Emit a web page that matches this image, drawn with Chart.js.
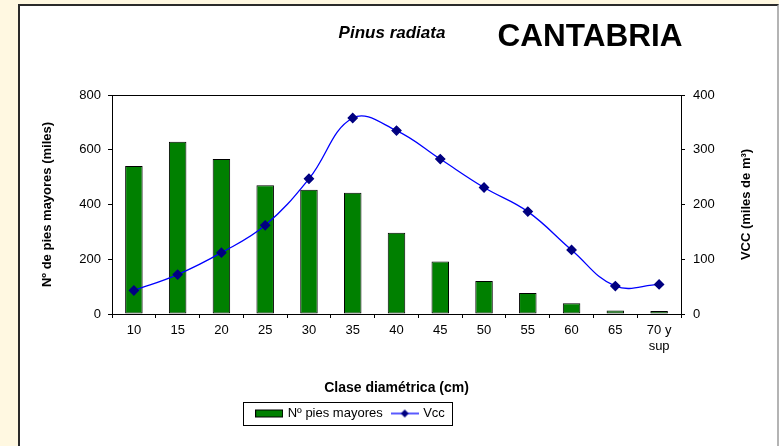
<!DOCTYPE html>
<html>
<head>
<meta charset="utf-8">
<script src="https://cdn.jsdelivr.net/npm/chart.js@4.4.0/dist/chart.umd.min.js"></script>
<style>
  html, body { margin: 0; padding: 0; background: #FFF8E1; overflow: hidden; }
  #frame {
    position: absolute; left: 18px; top: 4px; width: 757px; height: 446px;
    background: #fff; border-left: 2px solid #2a2a2a; border-top: 2px solid #2a2a2a;
    border-right: 2px solid #b4b4b4;
  }
  #chart { position: absolute; left: 0; top: 0; }
</style>
</head>
<body>
<div id="frame"></div>
<canvas id="chart" width="779" height="446"></canvas>
<script>
const categories = ['10', '15', '20', '25', '30', '35', '40', '45', '50', '55', '60', '65', ['70 y', 'sup']];
const piesMayores = [541, 629, 566, 470, 454, 443, 297, 192, 121, 77, 39, 13, 11];
const vcc = [43, 72, 112, 162, 247, 358, 335, 283, 231, 187, 117, 51, 54];
const leftTicks = [0, 200, 400, 600, 800];
const rightTicks = [0, 100, 200, 300, 400];

const FONT = "'Liberation Sans', Arial, sans-serif";

// iconos de la leyenda (barra verde / linea con rombo)
function makeIcon(kind) {
  const c = document.createElement('canvas');
  c.width = 28;
  c.height = 10;
  const g = c.getContext('2d');
  if (kind === 'bar') {
    g.fillStyle = '#008000';
    g.fillRect(0.5, 1.5, 27, 7);
    g.strokeStyle = '#000';
    g.lineWidth = 1;
    g.strokeRect(0.5, 1.5, 27, 7);
  } else {
    g.strokeStyle = '#0000FF';
    g.lineWidth = 1.3;
    g.beginPath();
    g.moveTo(0, 5);
    g.lineTo(28, 5);
    g.stroke();
    g.fillStyle = '#000080';
    g.beginPath();
    g.moveTo(14, 1);
    g.lineTo(18, 5);
    g.lineTo(14, 9);
    g.lineTo(10, 5);
    g.closePath();
    g.fill();
  }
  return c;
}
const legendIcons = [makeIcon('bar'), makeIcon('line')];

const LEGEND_CX = 351;

const framePlugin = {
  id: 'framePlugin',
  afterLayout(chart) {
    const lg = chart.legend;
    if (!lg) return;
    const delta = LEGEND_CX - (lg.left + lg.right) / 2;
    lg.left += delta;
    lg.right += delta;
  },
  afterDatasetsDraw(chart) {
    const {ctx, chartArea: a} = chart;
    ctx.save();
    ctx.strokeStyle = '#000';
    ctx.lineWidth = 1;
    ctx.strokeRect(Math.round(a.left) + 0.5, Math.round(a.top) + 0.5,
      Math.round(a.right - a.left), Math.round(a.bottom - a.top));
    ctx.restore();
  },
  afterDraw(chart) {
    const ctx = chart.ctx;
    const a = chart.chartArea;
    ctx.save();
    ctx.fillStyle = '#000';
    ctx.textBaseline = 'alphabetic';
    ctx.textAlign = 'center';
    ctx.font = 'italic bold 17px ' + FONT;
    ctx.fillText('Pinus radiata', 392, 38);
    ctx.font = 'bold 31.5px ' + FONT;
    ctx.fillText('CANTABRIA', 590, 46);

    // titulo del eje derecho, leido de abajo arriba
    ctx.save();
    ctx.translate(746, (a.top + a.bottom) / 2);
    ctx.rotate(-Math.PI / 2);
    ctx.textBaseline = 'middle';
    ctx.font = 'bold 13px ' + FONT;
    ctx.fillText('VCC (miles de m³)', 0, 0);
    ctx.restore();

    // recuadro de la leyenda
    const lg = chart.legend;
    const pad = lg.options.labels.padding;
    const w = lg.lineWidths[0] - pad;
    const cx = (lg.left + lg.right) / 2;
    const cy = lg.top + pad + 6.5;
    const x0 = Math.round(cx - w / 2 - 14) + 0.5;
    const x1 = Math.round(cx + w / 2 + 7) + 0.5;
    ctx.strokeStyle = '#000';
    ctx.lineWidth = 1;
    ctx.strokeRect(x0, Math.round(cy - 12) + 0.5, x1 - x0, 23);
    ctx.restore();
  }
};

const ctx = document.getElementById('chart').getContext('2d');
new Chart(ctx, {
  data: {
    labels: categories,
    datasets: [
      {
        type: 'bar',
        label: 'Nº pies mayores',
        data: piesMayores,
        yAxisID: 'y',
        backgroundColor: '#008000',
        borderColor: '#000',
        borderWidth: 1,
        borderSkipped: false,
        barPercentage: 0.4,
        categoryPercentage: 1,
        order: 1
      },
      {
        type: 'line',
        label: 'Vcc',
        data: vcc,
        yAxisID: 'y2',
        borderColor: '#0000FF',
        borderWidth: 1.3,
        tension: 0.4,
        pointStyle: 'rectRot',
        pointRadius: 4.5,
        pointBackgroundColor: '#000080',
        pointBorderColor: '#000080',
        fill: false,
        order: 0
      }
    ]
  },
  options: {
    responsive: false,
    animation: false,
    layout: { padding: { top: 95, left: 0, right: 0, bottom: 16 } },
    plugins: {
      tooltip: { enabled: false },
      title: { display: false },
      legend: {
        position: 'bottom',
        labels: {
          usePointStyle: true,
          pointStyleWidth: 24,
          padding: 10,
          color: '#000',
          font: { family: FONT, size: 13 },
          sort: (a, b) => a.datasetIndex - b.datasetIndex,
          generateLabels: function (chart) {
            const items = Chart.defaults.plugins.legend.labels.generateLabels(chart);
            items.forEach(it => { it.pointStyle = legendIcons[it.datasetIndex]; });
            return items;
          }
        }
      }
    },
    scales: {
      x: {
        offset: true,
        grid: { display: true, drawOnChartArea: false, drawTicks: true, tickLength: 4, offset: true, color: '#000' },
        border: { display: true, color: '#000', width: 1 },
        ticks: { color: '#000', font: { family: FONT, size: 13 }, padding: 5, maxRotation: 0, autoSkip: false },
        title: {
          display: true,
          text: 'Clase diamétrica (cm)',
          color: '#000',
          font: { family: FONT, size: 14, weight: 'bold' },
          padding: { top: 0, bottom: 0 }
        },
        afterFit: scale => { scale.height = 83; }
      },
      y: {
        position: 'left',
        min: 0,
        max: 800,
        afterBuildTicks: scale => { scale.ticks = leftTicks.map(v => ({ value: v })); },
        grid: { display: true, drawOnChartArea: false, drawTicks: true, tickLength: 4, color: '#000' },
        border: { display: true, color: '#000', width: 1 },
        ticks: { color: '#000', font: { family: FONT, size: 13 }, padding: 7 },
        title: {
          display: true,
          text: 'Nº de pies mayores (miles)',
          color: '#000',
          font: { family: FONT, size: 13, weight: 'bold' },
          padding: { top: 40, bottom: 0 }
        },
        afterFit: scale => { scale.width = 112; }
      },
      y2: {
        position: 'right',
        min: 0,
        max: 400,
        afterBuildTicks: scale => { scale.ticks = rightTicks.map(v => ({ value: v })); },
        grid: { display: true, drawOnChartArea: false, drawTicks: true, tickLength: 4, color: '#000' },
        border: { display: true, color: '#000', width: 1 },
        ticks: { color: '#000', font: { family: FONT, size: 13 }, padding: 8 },
        title: { display: false },
        afterFit: scale => { scale.width = 98; }
      }
    }
  },
  plugins: [framePlugin]
});
</script>
</body>
</html>
